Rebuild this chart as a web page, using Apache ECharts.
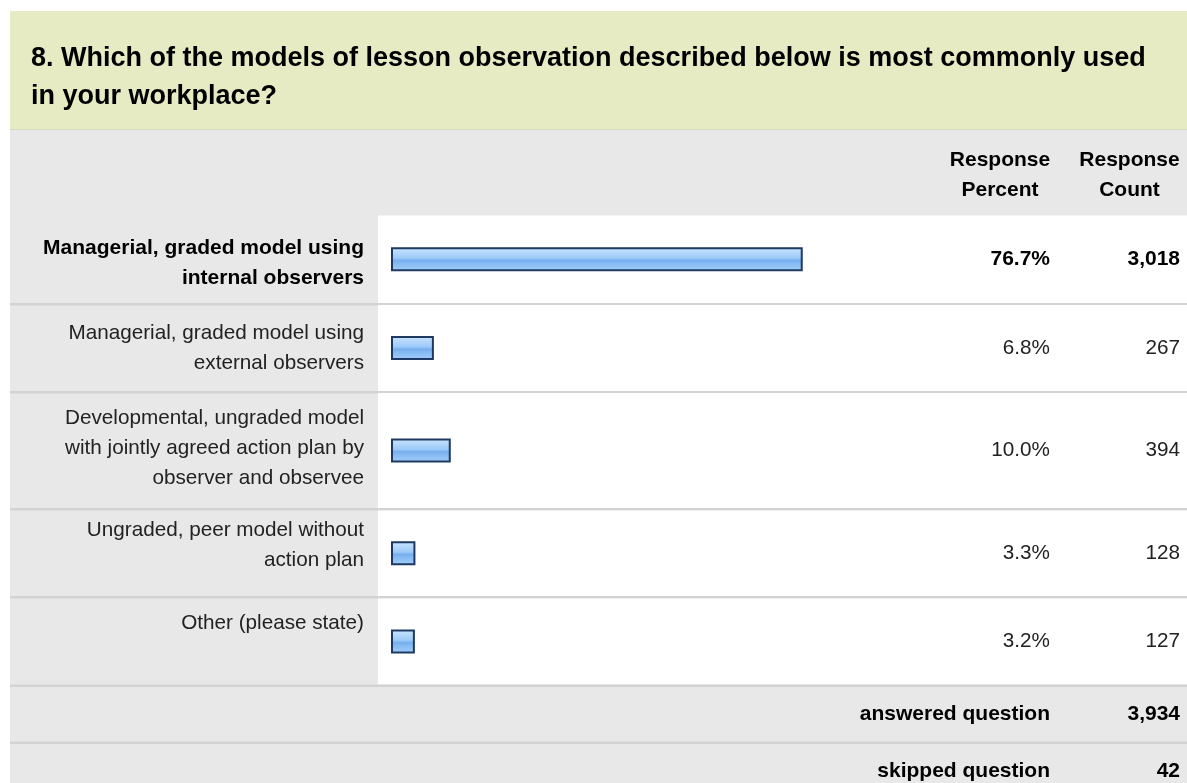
<!DOCTYPE html>
<html>
<head>
<meta charset="utf-8">
<script src="https://cdn.jsdelivr.net/npm/echarts@6/dist/echarts.min.js"></script>
<style>
  html, body { margin: 0; padding: 0; background: #fff; }
  #chart { width: 1187px; height: 783px; }
</style>
</head>
<body>
<div id="chart"></div>
<script>
// answer options and results
var categories = [
  'Managerial, graded model using\ninternal observers',
  'Managerial, graded model using\nexternal observers',
  'Developmental, ungraded model\nwith jointly agreed action plan by\nobserver and observee',
  'Ungraded, peer model without\naction plan',
  'Other (please state)'
];
var percents = [76.7, 6.8, 10.0, 3.3, 3.2];
var counts = [3018, 267, 394, 128, 127];
var answered = 3934;
var skipped = 42;
var topIndex = 0; // most chosen answer is shown bold

// table layout: top and height of every white row
var rowTop = [215.5, 305, 393, 510.5, 598.5];
var rowHeight = [87.5, 86, 115, 85.5, 86];
var labelShift = [4, 0, -2, -8, -18];

var FONT = '"Liberation Sans", Arial, sans-serif';
var N = categories.length;
var chart = echarts.init(document.getElementById('chart'));

var barFill = new echarts.graphic.LinearGradient(0, 0, 0, 1, [
  { offset: 0, color: '#cde5fd' },
  { offset: 0.45, color: '#9ccaf8' },
  { offset: 0.55, color: '#76aeee' },
  { offset: 0.7, color: '#88bcf3' },
  { offset: 1, color: '#a4cef8' }
]);

function fmt(n) { return n.toLocaleString('en-US'); }

var grids = [], xAxes = [], yAxes = [], series = [];
var noLine = { axisLine: { show: false }, axisTick: { show: false } };

categories.forEach(function (name, i) {
  var bold = i === topIndex;
  var txt = {
    fontFamily: FONT,
    fontSize: bold ? 21 : 20.7,
    fontWeight: bold ? 'bold' : 'normal',
    color: bold ? '#000' : '#222'
  };
  // bar grid: y axes 3*i (unused label), 3*i+1 percent, 3*i+2 count
  grids.push({ left: 392, width: 527.7, top: rowTop[i], height: rowHeight[i] });
  xAxes.push({ gridIndex: i, type: 'value', min: 0, max: 100, show: false });
  yAxes.push(Object.assign({
    gridIndex: i, type: 'category', data: [name], position: 'left',
    axisLabel: { show: false }
  }, noLine));
  yAxes.push(Object.assign({
    gridIndex: i, type: 'category', data: [percents[i].toFixed(1) + '%'], position: 'right',
    axisLabel: Object.assign({ margin: 130.3, align: 'right' }, txt)
  }, noLine));
  yAxes.push(Object.assign({
    gridIndex: i, type: 'category', data: [fmt(counts[i])], position: 'right',
    axisLabel: Object.assign({ margin: 260.3, align: 'right' }, txt)
  }, noLine));
  series.push({
    type: 'custom',
    xAxisIndex: i,
    yAxisIndex: i * 3,
    data: [[percents[i], 0]],
    renderItem: function (params, api) {
      var p0 = api.coord([0, api.value(1)]);
      var p1 = api.coord([api.value(0), api.value(1)]);
      return {
        type: 'rect',
        shape: { x: p0[0], y: p0[1] - 11, width: p1[0] - p0[0] + 5, height: 22 },
        style: { fill: barFill, stroke: '#1f3a62', lineWidth: 2 }
      };
    }
  });
});

// label grids: row names sit a little off the row centre
categories.forEach(function (name, i) {
  var bold = i === topIndex;
  grids.push({ left: 392, width: 527.7, top: rowTop[i] + labelShift[i], height: rowHeight[i] });
  xAxes.push({ gridIndex: N + i, type: 'value', min: 0, max: 100, show: false });
  yAxes.push(Object.assign({
    gridIndex: N + i, type: 'category', data: [name], position: 'left',
    axisLabel: {
      margin: 28, align: 'right', lineHeight: 30,
      fontFamily: FONT,
      fontSize: bold ? 21 : 20.7,
      fontWeight: bold ? 'bold' : 'normal',
      color: bold ? '#000' : '#222'
    }
  }, noLine));
});

// table background, separators, header and footer
var graphics = [
  { type: 'rect', z: 0, shape: { x: 10, y: 11, width: 1177, height: 119 }, style: { fill: '#e6ebc3' } },
  { type: 'rect', z: 0, shape: { x: 10, y: 129, width: 1177, height: 1 }, style: { fill: '#d6d9c2' } },
  { type: 'rect', z: 0, shape: { x: 10, y: 130, width: 1177, height: 653 }, style: { fill: '#e8e8e8' } }
];
rowTop.forEach(function (t, i) {
  graphics.push({ type: 'rect', z: 0, shape: { x: 378, y: t, width: 809, height: rowHeight[i] }, style: { fill: '#fff' } });
  graphics.push({ type: 'rect', z: 0, shape: { x: 10, y: t + rowHeight[i], width: 1177, height: 2.5 }, style: { fill: '#d3d3d3' } });
});
graphics.push({ type: 'rect', z: 0, shape: { x: 10, y: 741.5, width: 1177, height: 2.5 }, style: { fill: '#d3d3d3' } });

function tx(text, x, y, align) {
  return {
    type: 'text', z: 10, x: x, y: y,
    style: {
      text: text, align: align, verticalAlign: 'middle', lineHeight: 30,
      font: 'bold 21px ' + FONT, fill: '#000'
    }
  };
}
graphics.push(tx('Response\nPercent', 1000, 175, 'center'));
graphics.push(tx('Response\nCount', 1129.5, 175, 'center'));
graphics.push(tx('answered question', 1050, 714, 'right'));
graphics.push(tx(fmt(answered), 1180, 714, 'right'));
graphics.push(tx('skipped question', 1050, 771, 'right'));
graphics.push(tx(fmt(skipped), 1180, 771, 'right'));

chart.setOption({
  animation: false,
  title: {
    text: '8. Which of the models of lesson observation described below is most commonly used\nin your workplace?',
    left: 31, top: 40, padding: 0,
    textStyle: { fontFamily: FONT, fontSize: 27, fontWeight: 'bold', color: '#000', lineHeight: 38 }
  },
  graphic: graphics,
  grid: grids,
  xAxis: xAxes,
  yAxis: yAxes,
  series: series
});
</script>
</body>
</html>
